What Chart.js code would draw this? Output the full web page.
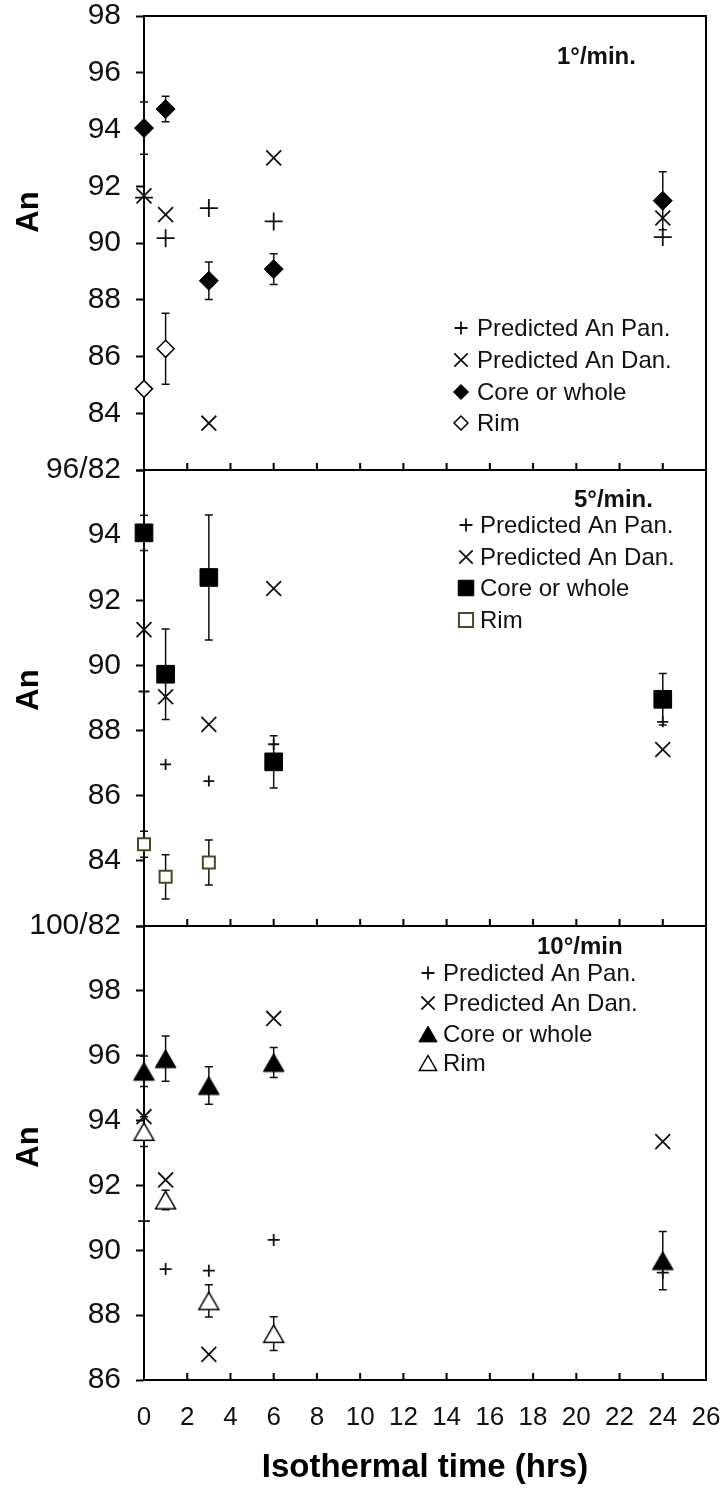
<!DOCTYPE html>
<html><head><meta charset="utf-8">
<script src="https://cdn.jsdelivr.net/npm/chart.js@4/dist/chart.umd.min.js"></script>
<style>
html,body{margin:0;padding:0;background:#fff;}
#wrap{position:relative;width:724px;height:1491px;overflow:hidden;background:#fff;}
canvas{position:absolute;left:0;}
</style></head><body>
<div id="wrap">
<canvas id="c1" width="724" height="534" style="top:-24px"></canvas>
<canvas id="c2" width="724" height="536" style="top:430px"></canvas>
<canvas id="c3" width="724" height="605" style="top:886px"></canvas>
</div>
<script>
// ---------- data ----------
const times = [0, 1, 3, 6, 24];
const xTickValues = [0, 2, 4, 6, 8, 10, 12, 14, 16, 18, 20, 22, 24, 26];
const xTitle = 'Isothermal time (hrs)';
const yTitle = 'An';
const seriesNames = ['Predicted An Pan.', 'Predicted An Dan.', 'Core or whole', 'Rim'];
const panelTitles = ['1°/min.', '5°/min.', '10°/min'];

// 1 °/min
const predPan1 = [91.6, 90.17, 91.23, 90.76, 90.21];
const predDan1 = [91.66, 91.0, 83.65, 93.0, 90.88];
const core1 = [94.05, 94.72, 88.67, 89.08, 91.49];
const core1Err = [0.92, 0.45, 0.66, 0.54, 1.02];
const rim1 = [84.86, 86.27, null, null, null];
const rim1Err = [null, 1.25, null, null, null];
const yTicks1 = [82, 84, 86, 88, 90, 92, 94, 96, 98];
const yLabels1 = ['96/82', '84', '86', '88', '90', '92', '94', '96', '98'];

// 5 °/min
const predPan2 = [89.2, 86.96, 86.45, 87.58, 88.27];
const predDan2 = [91.1, 89.04, 88.19, 92.36, 87.42];
const core2 = [94.07, 89.73, 92.7, 87.04, 88.96];
const core2Err = [0.54, 1.39, 1.92, 0.8, 0.79];
const rim2 = [84.51, 83.51, 83.95, null, null];
const rim2Err = [0.4, 0.68, 0.69, null, null];
const yTicks2 = [82, 84, 86, 88, 90, 92, 94, 96];
const yLabels2 = ['100/82', '84', '86', '88', '90', '92', '94', ''];

// 10 °/min
const predPan3 = [90.9, 89.42, 89.37, 90.32, 89.31];
const predDan3 = [94.12, 92.17, 86.79, 97.15, 93.35];
const core3 = [95.52, 95.91, 95.08, 95.79, 89.68];
const core3Err = [0.47, 0.7, 0.58, 0.46, 0.9];
const rim3 = [93.66, 91.55, 88.44, 87.43, null];
const rim3Err = [0.46, 0.3, 0.5, 0.52, null];
const yTicks3 = [86, 88, 90, 92, 94, 96, 98, 100];
const yLabels3 = ['86', '88', '90', '92', '94', '96', '98', ''];

// ---------- rendering ----------
const FONT = "'Liberation Sans', Arial, Helvetica, sans-serif";
Chart.defaults.font.family = FONT;
Chart.defaults.color = '#111';

function mark(ctx, style, x, y, r, fill, stroke, lw) {
  ctx.beginPath();
  if (style === 'cross') {
    ctx.moveTo(x, y - r); ctx.lineTo(x, y + r); ctx.moveTo(x - r, y); ctx.lineTo(x + r, y);
  } else if (style === 'crossRot') {
    const d = r * Math.SQRT1_2;
    ctx.moveTo(x - d, y - d); ctx.lineTo(x + d, y + d); ctx.moveTo(x + d, y - d); ctx.lineTo(x - d, y + d);
  } else if (style === 'rectRot') {
    ctx.moveTo(x - r, y); ctx.lineTo(x, y - r); ctx.lineTo(x + r, y); ctx.lineTo(x, y + r); ctx.closePath();
  } else if (style === 'rect') {
    const s = r * Math.SQRT1_2; ctx.rect(x - s, y - s, 2 * s, 2 * s);
  } else if (style === 'triangle') {
    y += r * 0.25;
    ctx.moveTo(x, y - r); ctx.lineTo(x + r * 0.866, y + r / 2); ctx.lineTo(x - r * 0.866, y + r / 2); ctx.closePath();
  }
  if (fill && style !== 'cross' && style !== 'crossRot') { ctx.fillStyle = fill; ctx.fill(); }
  ctx.strokeStyle = stroke; ctx.lineWidth = lw; ctx.stroke();
}

// centred triangle marker image (so the marker box is centred on the value)
function triImage(r, fill, stroke, lw) {
  const w = Math.ceil(2 * r * 0.866 + 2 * lw + 2), h = Math.ceil(1.5 * r + 2 * lw + 2);
  const c = document.createElement('canvas');
  c.width = w; c.height = h;
  mark(c.getContext('2d'), 'triangle', w / 2, h / 2, r, fill, stroke, lw);
  return c;
}

const deco = {
  id: 'deco',
  beforeDatasetsDraw(chart) {
    const ctx = chart.ctx, ys = chart.scales.y;
    ctx.save();
    ctx.strokeStyle = '#111'; ctx.lineWidth = 1.5;
    chart.data.datasets.forEach((ds, di) => {
      if (!ds.errors) return;
      const meta = chart.getDatasetMeta(di);
      ds.errors.forEach((e, i) => {
        const v = ds.data[i].y;
        if (e == null || v == null) return;
        const x = meta.data[i].x;
        const y1 = ys.getPixelForValue(v + e), y2 = ys.getPixelForValue(v - e);
        ctx.beginPath();
        ctx.moveTo(x, y1); ctx.lineTo(x, y2);
        ctx.moveTo(x - 4, y1); ctx.lineTo(x + 4, y1);
        ctx.moveTo(x - 4, y2); ctx.lineTo(x + 4, y2);
        ctx.stroke();
      });
    });
    ctx.restore();
  },
  afterDraw(chart, args, o) {
    const ctx = chart.ctx, a = chart.chartArea, xs = chart.scales.x;
    const off = o.offsetY;
    ctx.save();
    ctx.strokeStyle = '#000'; ctx.lineWidth = 2;
    ctx.beginPath();
    ctx.moveTo(a.right, a.top - (o.topLine ? 1 : 0)); ctx.lineTo(a.right, a.bottom + 1);
    if (o.topLine) { ctx.moveTo(a.left, a.top); ctx.lineTo(a.right, a.top); }
    xTickValues.forEach(v => {
      if (v > xs.min && v < xs.max) {
        const px = xs.getPixelForValue(v);
        ctx.moveTo(px, a.bottom); ctx.lineTo(px, a.bottom - 7);
      }
    });
    ctx.stroke();
    // panel title
    ctx.fillStyle = '#111';
    ctx.textBaseline = 'middle'; ctx.textAlign = 'left';
    ctx.font = 'bold 24px ' + FONT;
    ctx.fillText(o.title, o.titleX, o.titleY - off);
    // legend
    ctx.font = '24px ' + FONT;
    chart.data.datasets.forEach((ds, i) => {
      const y = o.legendRows[i] - off;
      mark(ctx, ds.legendStyle, o.legendMarkX, y, ds.legendRadius, ds.backgroundColor, ds.borderColor, ds.borderWidth);
      ctx.fillStyle = '#111';
      ctx.fillText(ds.label, o.legendTextX, y + 1);
    });
    // y title
    ctx.save();
    ctx.translate(o.yTitleX, o.yTitleY - off);
    ctx.rotate(-Math.PI / 2);
    ctx.textAlign = 'center';
    ctx.font = 'bold 31px ' + FONT;
    ctx.fillStyle = '#000';
    ctx.fillText(yTitle, 0, 0);
    ctx.restore();
    ctx.restore();
  }
};

function pts(vals) { return times.map((t, i) => ({ x: t, y: vals[i] })); }

function makeChart(id, p) {
  const bottom = p.bottom;
  const tri = p.style === 'triangle';
  const datasets = [
    { label: seriesNames[0], data: pts(p.pan), pointStyle: 'cross', legendStyle: 'cross', pointRadius: p.panR, borderColor: '#111', backgroundColor: '#111', borderWidth: 1.8, legendRadius: 6.5, order: 3 },
    { label: seriesNames[1], data: pts(p.dan), pointStyle: 'crossRot', legendStyle: 'crossRot', pointRadius: 10.5, borderColor: '#111', backgroundColor: '#111', borderWidth: 1.8, legendRadius: 9.5, order: 2 },
    { label: seriesNames[2], data: pts(p.core), errors: p.coreErr, legendStyle: p.style,
      pointStyle: tri ? triImage(p.coreR, '#000', '#000', 1) : p.style, pointRadius: p.coreR, borderColor: '#000', backgroundColor: '#000', borderWidth: 1, legendRadius: p.coreLR, order: 1 },
    { label: seriesNames[3], data: pts(p.rim), errors: p.rimErr, legendStyle: p.style,
      pointStyle: tri ? triImage(p.rimR, '#fff', p.rimColor, p.rimW) : p.style, pointRadius: p.rimR, borderColor: p.rimColor, backgroundColor: '#fff', borderWidth: p.rimW, legendRadius: p.rimLR, order: 0 }
  ];
  datasets.forEach(d => { d.clip = false; d.showLine = false; d.pointHoverRadius = d.pointRadius; });
  return new Chart(document.getElementById(id), {
    type: 'scatter',
    data: { datasets },
    options: {
      responsive: false, animation: false, events: [],
      layout: { padding: { top: 40, right: 18, left: 0, bottom: 0 } },
      plugins: {
        legend: { display: false }, tooltip: { enabled: false },
        deco: p.deco
      },
      scales: {
        x: {
          type: 'linear', min: 0, max: 26,
          afterBuildTicks: s => { s.ticks = xTickValues.map(v => ({ value: v })); },
          ticks: { display: bottom, font: { size: 26 }, color: '#111', padding: 3, maxRotation: 0, autoSkip: false },
          grid: { drawOnChartArea: false, drawTicks: true, tickLength: 19, tickColor: 'rgba(0,0,0,0)' },
          border: { display: true, color: '#000', width: 2 },
          title: { display: bottom, text: xTitle, font: { size: 33, weight: 'bold' }, color: '#000', padding: { top: 0, bottom: 3 } },
          afterFit: s => { s.height = bottom ? 111 : 40; }
        },
        y: {
          type: 'linear', min: p.yTicks[0], max: p.yTicks[p.yTicks.length - 1],
          afterBuildTicks: s => { s.ticks = p.yTicks.map(v => ({ value: v })); },
          ticks: { font: { size: 30 }, color: '#111', padding: 15, autoSkip: false, callback: (v, i) => p.yLabels[i] },
          grid: { drawOnChartArea: false, drawTicks: true, tickLength: 8, tickWidth: 2, tickColor: '#000' },
          border: { display: true, color: '#000', width: 2 },
          afterFit: s => { s.width = 144; }
        }
      }
    },
    plugins: [deco]
  });
}

makeChart('c1', {
  bottom: false, pan: predPan1, dan: predDan1, core: core1, coreErr: core1Err, rim: rim1, rimErr: rim1Err,
  style: 'rectRot', panR: 9, coreR: 9.5, rimR: 8.5, coreLR: 7.5, rimLR: 7, rimColor: '#000', rimW: 1.5,
  yTicks: yTicks1, yLabels: yLabels1,
  deco: { offsetY: -24, topLine: true, title: panelTitles[0], titleX: 557, titleY: 57,
    legendMarkX: 461, legendTextX: 477, legendRows: [328, 360, 392, 423], yTitleX: 29, yTitleY: 212 }
});
makeChart('c2', {
  bottom: false, pan: predPan2, dan: predDan2, core: core2, coreErr: core2Err, rim: rim2, rimErr: rim2Err,
  style: 'rect', panR: 5.5, coreR: 12.5, rimR: 8.5, coreLR: 11, rimLR: 10, rimColor: '#4a4a22', rimW: 2,
  yTicks: yTicks2, yLabels: yLabels2,
  deco: { offsetY: 430, topLine: false, title: panelTitles[1], titleX: 574, titleY: 500,
    legendMarkX: 466, legendTextX: 480, legendRows: [525, 557, 588, 620], yTitleX: 29, yTitleY: 690 }
});
makeChart('c3', {
  bottom: true, pan: predPan3, dan: predDan3, core: core3, coreErr: core3Err, rim: rim3, rimErr: rim3Err,
  style: 'triangle', panR: 6, coreR: 12, rimR: 11.5, coreLR: 10.5, rimLR: 10, rimColor: '#000', rimW: 1.5,
  yTicks: yTicks3, yLabels: yLabels3,
  deco: { offsetY: 886, topLine: false, title: panelTitles[2], titleX: 537, titleY: 947,
    legendMarkX: 428, legendTextX: 443, legendRows: [973, 1003, 1034, 1063], yTitleX: 29, yTitleY: 1147 }
});
</script>
</body></html>
